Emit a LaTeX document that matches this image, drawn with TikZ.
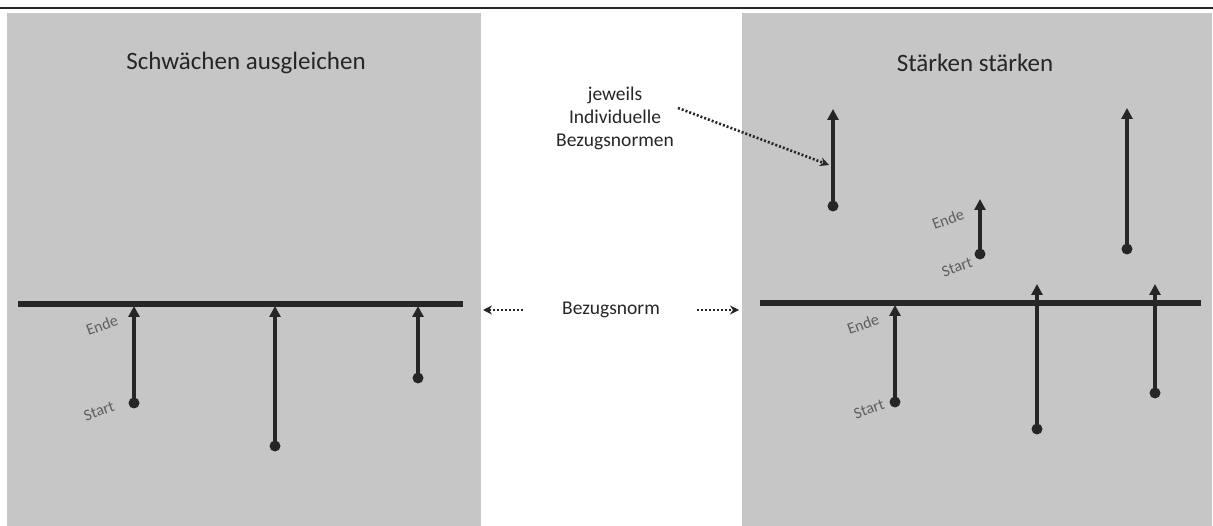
\documentclass[tikz,border=0pt]{standalone}
\usepackage{fontspec}
\setmainfont{Carlito}
\usetikzlibrary{arrows.meta}
\definecolor{panel}{HTML}{C6C6C6}
\definecolor{ink}{HTML}{262626}
\definecolor{lbl}{HTML}{5E5E5E}
\tikzset{
  panelbox/.style={fill=panel, draw=none},
  normline/.style={draw=ink, line width=5.5pt},
  startdot/.style={circle, fill=ink, inner sep=0pt, minimum size=11pt},
  growth/.style={draw=ink, line width=3.4pt, -{Triangle[width=11pt,length=11pt]}},
  pointer/.style={draw=ink, line width=2.6pt, dash pattern=on 2pt off 2pt, -{Stealth[width=9pt,length=9pt]}},
  tag/.style={text=lbl, font=\fontsize{16}{18}\selectfont, rotate=20, inner sep=0pt},
  title/.style={text=ink, font=\fontsize{25}{30}\selectfont, inner sep=0pt},
  note/.style={text=ink, font=\fontsize{19.5}{23}\selectfont, inner sep=0pt, align=center}
}
\begin{document}
\begin{tikzpicture}[x=1pt,y=-1pt]
\useasboundingbox (0,0) rectangle (1213,526);
% rule across the top
\draw[ink, line width=1.2pt] (0,8) -- (1213,8);
% the two panels
\fill[panelbox] (7,13) rectangle (481,526);
\fill[panelbox] (742,13) rectangle (1212,526);
\node[title] (tl) at (246,63) {Schwächen ausgleichen};
\node[title] (tr) at (975,63) {Stärken stärken};

% common reference norm (left)
\draw[normline] (18,304) -- (463,304);
\node[startdot] (a1) at (134,403) {};
\node[startdot] (a2) at (275,446) {};
\node[startdot] (a3) at (418,378) {};
\coordinate (e1) at (134,306);
\coordinate (e2) at (275,306);
\coordinate (e3) at (418,306);
\draw[growth] (a1.center) -- (e1);
\draw[growth] (a2.center) -- (e2);
\draw[growth] (a3.center) -- (e3);
\node[tag] (ende1) at (102,325) {Ende};
\node[tag] (start1) at (99,411) {Start};

% individual norms (right)
\draw[normline] (760,303) -- (1201,303);
\node[startdot] (b1) at (833,206) {};
\node[startdot] (b2) at (980,254) {};
\node[startdot] (b3) at (1127,249) {};
\node[startdot] (b4) at (895,402) {};
\node[startdot] (b5) at (1037,429) {};
\node[startdot] (b6) at (1155,393) {};
\coordinate (f1) at (833,109);
\coordinate (f2) at (980,199);
\coordinate (f3) at (1127,108);
\coordinate (f4) at (895,305);
\coordinate (f5) at (1037,284);
\coordinate (f6) at (1155,284);
\foreach \s/\e in {b1/f1,b2/f2,b3/f3,b4/f4,b5/f5,b6/f6}
  \draw[growth] (\s.center) -- (\e);
\node[tag] (ende2) at (948,219) {Ende};
\node[tag] (start2) at (957,267) {Start};
\node[tag] (ende3) at (863,324) {Ende};
\node[tag] (start3) at (869,409) {Start};

% labels in the middle
\node[note] (ind) at (615,118) {jeweils\\Individuelle\\Bezugsnormen};
\coordinate (indtip) at (829,165);
\draw[pointer] (678,108) -- (indtip);
\node[note] (norm) at (611,310) {Bezugsnorm};
\coordinate (nl) at (483,310);
\coordinate (nr) at (739,310);
\draw[pointer] (523,310) -- (nl);
\draw[pointer] (697,310) -- (nr);
\end{tikzpicture}
\end{document}
